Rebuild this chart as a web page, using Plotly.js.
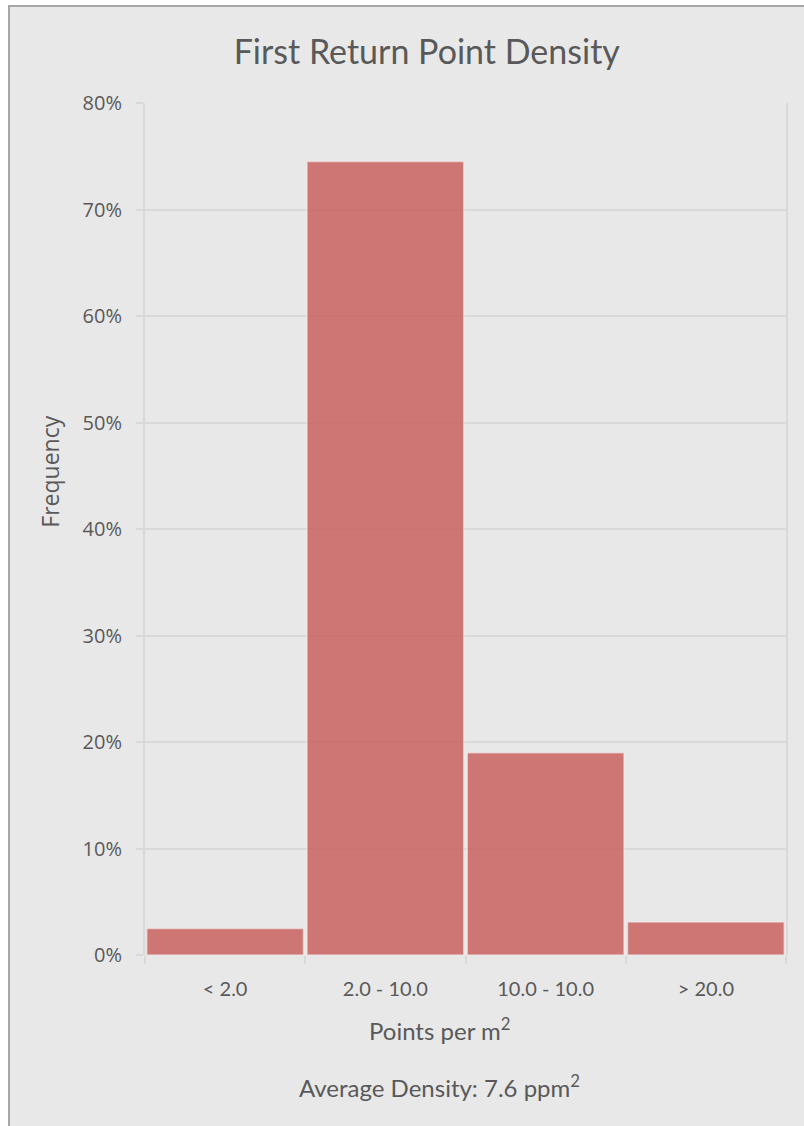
<!DOCTYPE html>
<html>
<head>
<meta charset="utf-8">
<script src="https://cdn.plot.ly/plotly-3.0.1.min.js"></script>
<style>
  html, body { margin: 0; padding: 0; background: #ffffff; width: 804px; height: 1126px; overflow: hidden; }
  #frame { position: absolute; left: 8px; top: 5px; border-left: 2px solid #a6a6a6; border-top: 2px solid #a6a6a6; }
  #chart { width: 794px; height: 1119px; }
</style>
</head>
<body>
<div id="frame"><div id="chart"></div></div>
<script>
const categories = ["< 2.0", "2.0 - 10.0", "10.0 - 10.0", "> 20.0"];
const frequency = [0.025, 0.745, 0.190, 0.031];
const yTickValues = [0, 0.1, 0.2, 0.3, 0.4, 0.5, 0.6, 0.7, 0.8];
const chartTitle = "First Return Point Density";
const xTitle = "Points per m<sup>2</sup>";
const yTitle = "Frequency";
const footnote = "Average Density: 7.6 ppm<sup>2</sup>";

const textColor = "#595959";
const gridColor = "#d9d9d9";
const gillFont = "Lato, 'Open Sans', sans-serif";
const tickFont = "'Open Sans', sans-serif";

const trace = {
  type: "bar",
  x: categories,
  y: frequency,
  marker: { color: "rgba(196,80,77,0.75)", line: { width: 1.5, color: "rgba(245,235,235,0.6)" } },
  hoverinfo: "skip"
};

const layout = {
  width: 794,
  height: 1119,
  paper_bgcolor: "#e8e8e8",
  plot_bgcolor: "#e8e8e8",
  margin: { l: 135, r: 17.5, t: 96, b: 170.5 },
  bargap: 0.022,
  showlegend: false,
  title: {
    text: chartTitle,
    font: { family: gillFont, size: 34, color: textColor },
    x: (427 - 145) / 641.5, xref: "paper", xanchor: "center",
    y: 1 - 45 / 1119, yanchor: "middle"
  },
  xaxis: {
    type: "category",
    tickson: "boundaries",
    ticks: "outside",
    ticklen: 8,
    tickwidth: 2,
    tickcolor: gridColor,
    showgrid: false,
    showline: false,
    zeroline: false,
    tickfont: { family: gillFont, size: 20, color: textColor },
    ticklabelstandoff: 20
  },
  yaxis: {
    range: [0, 0.8],
    tickvals: yTickValues,
    tickformat: ".0%",
    ticks: "outside",
    ticklen: 7,
    tickwidth: 2,
    tickcolor: gridColor,
    showgrid: true,
    gridcolor: gridColor,
    gridwidth: 2,
    zeroline: false,
    showline: true,
    linecolor: gridColor,
    linewidth: 2,
    mirror: true,
    tickfont: { family: tickFont, size: 20, color: textColor },
    ticklabelstandoff: 10
  },
  annotations: [
    {
      text: yTitle, textangle: -90, showarrow: false,
      xref: "paper", yref: "paper",
      x: (50 - 145) / 641.5, y: (955.5 - 472) / 852.2,
      xanchor: "center", yanchor: "middle",
      font: { family: tickFont, size: 23, color: textColor }
    },
    {
      text: xTitle, showarrow: false,
      xref: "paper", yref: "paper",
      x: (440 - 145) / 641.5, y: -(1030 - 955.5) / 852.2,
      xanchor: "center", yanchor: "middle",
      font: { family: gillFont, size: 24, color: textColor }
    },
    {
      text: footnote, showarrow: false,
      xref: "paper", yref: "paper",
      x: (440 - 145) / 641.5, y: -(1087 - 955.5) / 852.2,
      xanchor: "center", yanchor: "middle",
      font: { family: gillFont, size: 24, color: textColor }
    }
  ]
};

Plotly.newPlot("chart", [trace], layout, { displayModeBar: false, staticPlot: true });
</script>
</body>
</html>
